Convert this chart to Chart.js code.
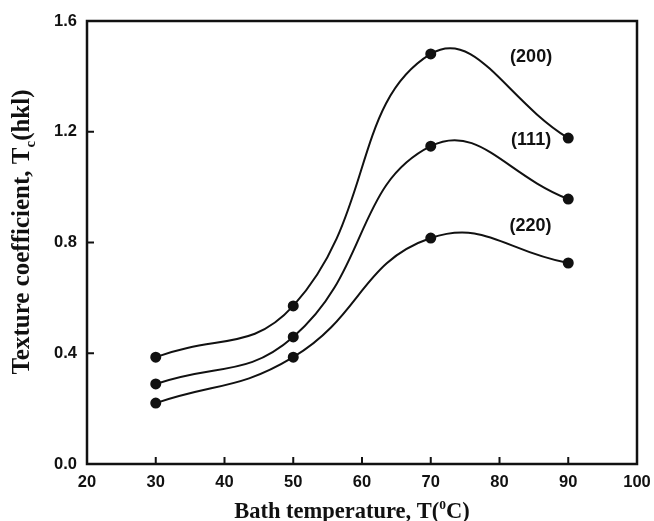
<!DOCTYPE html>
<html>
<head>
<meta charset="utf-8">
<script src="https://cdn.jsdelivr.net/npm/chart.js@4/dist/chart.umd.min.js"></script>
<style>
  html, body { margin: 0; padding: 0; background: #fff; }
  #wrap { width: 654px; height: 521px; }
</style>
</head>
<body>
<div id="wrap"><canvas id="c" width="654" height="521"></canvas></div>
<script>
// data
const temps = [30, 50, 70, 90];
const tc200 = [0.386, 0.571, 1.481, 1.177];
const tc111 = [0.289, 0.459, 1.148, 0.957];
const tc220 = [0.220, 0.386, 0.816, 0.726];
const seriesNames = ['(200)', '(111)', '(220)'];
const nameAnchors = [[84.6, 1.47], [84.6, 1.17], [84.5, 0.86]];

const xTicks = [20, 30, 40, 50, 60, 70, 80, 90, 100];
const yTicks = [0.0, 0.4, 0.8, 1.2, 1.6];

const INK = '#111';

function toPoints(ys) { return temps.map((t, i) => ({ x: t, y: ys[i] })) }

function mkSet(label, ys) {
  return {
    label: label,
    data: toPoints(ys),
    borderColor: INK,
    backgroundColor: INK,
    borderWidth: 2,
    pointRadius: 4.5,
    pointHoverRadius: 4.5,
    tension: 0.45,
    cubicInterpolationMode: 'default'
  };
}

// draws text pieces with sub/superscripts
function richText(ctx, parts, x, y, size) {
  let total = 0;
  parts.forEach(p => {
    ctx.font = 'bold ' + (p.s ? size * 0.6 : size) + 'px "Liberation Serif", "Times New Roman", serif';
    p.w = ctx.measureText(p.t).width;
    total += p.w;
  });
  let cx = x - total / 2;
  parts.forEach(p => {
    ctx.font = 'bold ' + (p.s ? size * 0.6 : size) + 'px "Liberation Serif", "Times New Roman", serif';
    ctx.fillText(p.t, cx, y + (p.s || 0));
    cx += p.w;
  });
}

const decor = {
  id: 'decor',
  afterDraw(chart) {
    const { ctx, chartArea: a, scales } = chart;
    ctx.save();
    // frame
    ctx.strokeStyle = INK;
    ctx.lineWidth = 2.5;
    ctx.strokeRect(a.left, a.top, a.right - a.left, a.bottom - a.top);
    // inward ticks
    ctx.lineWidth = 2;
    ctx.beginPath();
    xTicks.forEach(v => {
      const px = scales.x.getPixelForValue(v);
      ctx.moveTo(px, a.bottom); ctx.lineTo(px, a.bottom - 7);
    });
    yTicks.forEach(v => {
      const py = scales.y.getPixelForValue(v);
      ctx.moveTo(a.left, py); ctx.lineTo(a.left + 7, py);
    });
    ctx.stroke();
    // series names
    ctx.fillStyle = INK;
    ctx.font = 'bold 18px "Liberation Sans", Arial, sans-serif';
    ctx.textAlign = 'center';
    ctx.textBaseline = 'middle';
    seriesNames.forEach((n, i) => {
      ctx.fillText(n, scales.x.getPixelForValue(nameAnchors[i][0]), scales.y.getPixelForValue(nameAnchors[i][1]));
    });
    // axis titles
    ctx.textAlign = 'left';
    ctx.textBaseline = 'alphabetic';
    richText(ctx, [{ t: 'Bath temperature, T(' }, { t: '0', s: -9 }, { t: 'C)' }], 352, 518, 22.5);
    ctx.translate(29, 232);
    ctx.rotate(-Math.PI / 2);
    richText(ctx, [{ t: 'Texture coefficient, T' }, { t: 'c', s: 6 }, { t: '(hkl)' }], 0, 0, 25);
    ctx.restore();
  }
};

new Chart(document.getElementById('c').getContext('2d'), {
  type: 'line',
  data: {
    datasets: [mkSet(seriesNames[0], tc200), mkSet(seriesNames[1], tc111), mkSet(seriesNames[2], tc220)]
  },
  options: {
    responsive: false,
    animation: false,
    devicePixelRatio: 1,
    layout: { padding: { top: 21, right: 17, left: 0, bottom: 0 } },
    plugins: { legend: { display: false }, tooltip: { enabled: false } },
    scales: {
      x: {
        type: 'linear',
        min: 20, max: 100,
        afterBuildTicks: s => { s.ticks = xTicks.map(v => ({ value: v })) },
        afterFit: s => { s.height = 57; s.paddingLeft = 0; s.paddingRight = 0 },
        grid: { display: false, drawTicks: false },
        border: { display: false },
        ticks: {
          color: INK, padding: 9, maxRotation: 0,
          font: { family: '"Liberation Sans", Arial, sans-serif', size: 16.5, weight: 'bold' }
        }
      },
      y: {
        min: 0, max: 1.6,
        afterBuildTicks: s => { s.ticks = yTicks.map(v => ({ value: v })) },
        afterFit: s => { s.width = 87; s.paddingTop = 0; s.paddingBottom = 0 },
        grid: { display: false, drawTicks: false },
        border: { display: false },
        ticks: {
          color: INK, padding: 10,
          callback: v => v.toFixed(1),
          font: { family: '"Liberation Sans", Arial, sans-serif', size: 16.5, weight: 'bold' }
        }
      }
    }
  },
  plugins: [decor]
});
</script>
</body>
</html>
